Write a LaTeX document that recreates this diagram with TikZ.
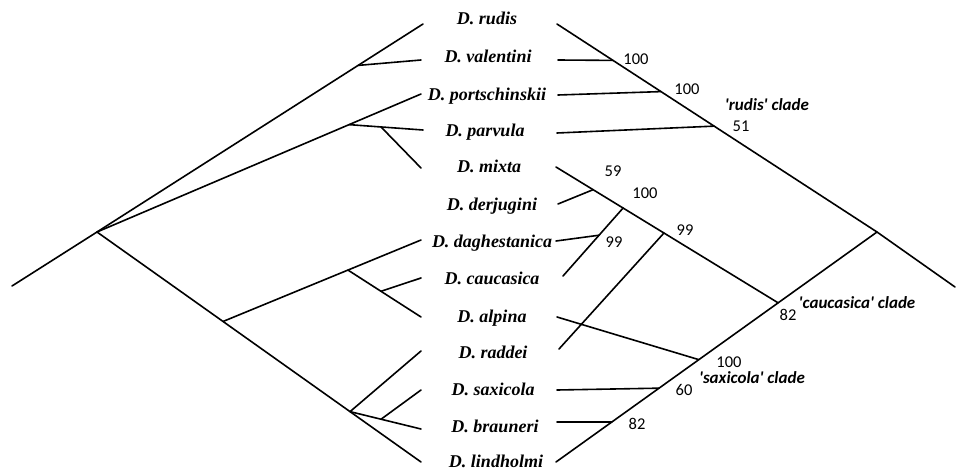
\documentclass[tikz,border=0pt]{standalone}
\usepackage{fontspec}
\setmainfont{Liberation Serif}
\newfontfamily\numfont{Carlito}
\usetikzlibrary{calc}
\tikzset{
  br/.style={line width=1.6pt, line cap=round},
  taxon/.style={font=\fontsize{18}{18}\selectfont\bfseries\itshape, anchor=base, inner sep=0pt},
  bs/.style={font=\numfont\fontsize{16.5}{16.5}\selectfont, inner sep=0pt},
  clade/.style={font=\numfont\fontsize{17}{17}\selectfont\bfseries\itshape, inner sep=0pt},
}
\begin{document}
\begin{tikzpicture}[x=1pt,y=-1pt]
\path[use as bounding box] (0,0) rectangle (956,471);
% taxon labels
\node[taxon] (n1)  at (487,24)  {D. rudis};
\node[taxon] (n2)  at (488,62)  {D. valentini};
\node[taxon] (n3)  at (487,100) {D. portschinskii};
\node[taxon] (n4)  at (485,136) {D. parvula};
\node[taxon] (n5)  at (489,172) {D. mixta};
\node[taxon] (n6)  at (492,210) {D. derjugini};
\node[taxon] (n7)  at (492,247) {D. daghestanica};
\node[taxon] (n8)  at (492,284) {D. caucasica};
\node[taxon] (n9)  at (492,322) {D. alpina};
\node[taxon] (n10) at (493,358) {D. raddei};
\node[taxon] (n11) at (493,395) {D. saxicola};
\node[taxon] (n12) at (495,432) {D. brauneri};
\node[taxon] (n13) at (496,467) {D. lindholmi};
% left tree
\coordinate (Ls) at (12,286);
\coordinate (Lr) at (97,232);
\coordinate (L1) at (423,24);
\coordinate (L2) at (421,60);
\coordinate (L3) at (421,94);
\coordinate (L4) at (423,130);
\coordinate (L5) at (421,168);
\coordinate (L7) at (421,240);
\coordinate (L8) at (421,278);
\coordinate (L9) at (421,317);
\coordinate (L10) at (421,351);
\coordinate (L11) at (421,390);
\coordinate (L12) at (421,429);
\coordinate (L13) at (421,462);
\coordinate (La) at ($(Lr)!0.801!(L1)$);
\coordinate (Lb) at ($(Lr)!0.778!(L3)$);
\coordinate (Lc) at ($(Lb)!0.432!(L4)$);
\coordinate (Ld) at ($(Lr)!0.389!(L13)$);
\coordinate (Le) at ($(Lr)!0.781!(L13)$);
\coordinate (Lf) at ($(Ld)!0.631!(L7)$);
\coordinate (Lg) at ($(Lf)!0.452!(L9)$);
\coordinate (Lh) at ($(Le)!0.437!(L12)$);
\draw[br] (Ls) -- (Lr) -- (L1);
\draw[br] (La) -- (L2);
\draw[br] (Lr) -- (L3);
\draw[br] (Lb) -- (L4);
\draw[br] (Lc) -- (L5);
\draw[br] (Lr) -- (L13);
\draw[br] (Ld) -- (L7);
\draw[br] (Lf) -- (L9);
\draw[br] (Lg) -- (L8);
\draw[br] (Le) -- (L10);
\draw[br] (Le) -- (L12);
\draw[br] (Lh) -- (L11);
% right tree
\coordinate (Rs) at (955,287);
\coordinate (Rr) at (877,232);
\coordinate (R1) at (557,24);
\coordinate (R2) at (558,60);
\coordinate (R3) at (558,95);
\coordinate (R4) at (557,133);
\coordinate (R5) at (556,167);
\coordinate (R6) at (558,204);
\coordinate (R7) at (556,241);
\coordinate (R8) at (563,276);
\coordinate (R9) at (557,317);
\coordinate (R10) at (559,349);
\coordinate (R11) at (557,390);
\coordinate (R12) at (557,422);
\coordinate (R13) at (556,462);
\coordinate (Ra) at ($(Rr)!0.825!(R1)$);
\coordinate (Rb) at ($(Rr)!0.675!(R1)$);
\coordinate (Rc) at ($(Rr)!0.509!(R1)$);
\coordinate (Rd) at ($(Rr)!0.308!(R13)$);
\coordinate (Re) at ($(Rr)!0.555!(R13)$);
\coordinate (Rf) at ($(Rr)!0.679!(R13)$);
\coordinate (Rg) at ($(Rr)!0.826!(R13)$);
\coordinate (Rh) at ($(Rd)!0.514!(R5)$);
\coordinate (Ri) at ($(Rd)!0.698!(R5)$);
\coordinate (Rj) at ($(Rd)!0.833!(R5)$);
\coordinate (Rk) at ($(Ri)!0.4!(R8)$);
\draw[br] (Rs) -- (Rr) -- (R1);
\draw[br] (R2) -- (Ra);
\draw[br] (R3) -- (Rb);
\draw[br] (R4) -- (Rc);
\draw[br] (Rr) -- (R13);
\draw[br] (Rd) -- (R5);
\draw[br] (R6) -- (Rj);
\draw[br] (Ri) -- (R8);
\draw[br] (R7) -- (Rk);
\draw[br] (Rh) -- (R10);
\draw[br] (R9) -- (Re);
\draw[br] (R11) -- (Rf);
\draw[br] (R12) -- (Rg);
% support values
\node[bs] (b1) at (636,59) {100};
\node[bs] (b2) at (687,89) {100};
\node[bs] (b3) at (741,126) {51};
\node[bs] (b4) at (613,171) {59};
\node[bs] (b5) at (645,193) {100};
\node[bs] (b6) at (685,230) {99};
\node[bs] (b7) at (614,242) {99};
\node[bs] (b8) at (788,315) {82};
\node[bs] (b9) at (729,362) {100};
\node[bs] (b10) at (684,390) {60};
\node[bs] (b11) at (637,424) {82};
% clade labels
\node[clade] (c1) at (767,105) {'rudis' clade};
\node[clade] (c2) at (857,303) {'caucasica' clade};
\node[clade] (c3) at (752,378) {'saxicola' clade};
\end{tikzpicture}
\end{document}
